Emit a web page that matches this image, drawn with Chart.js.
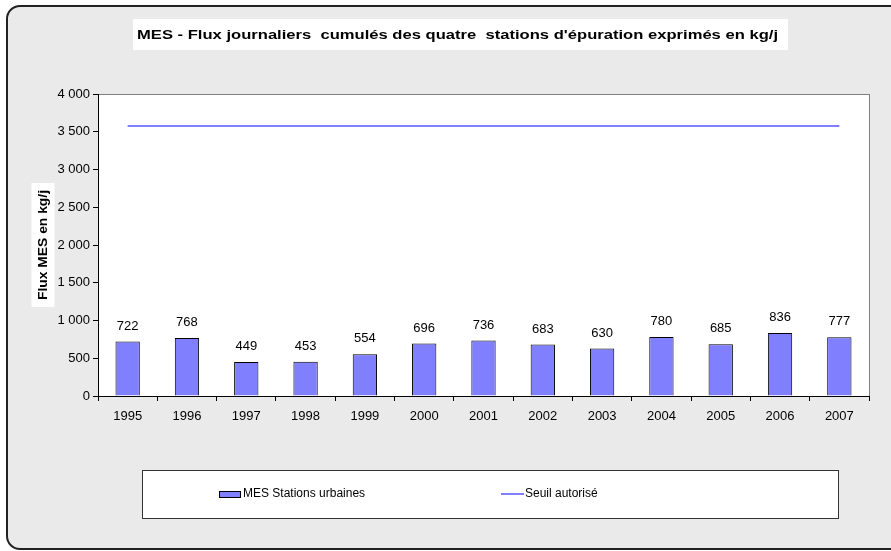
<!DOCTYPE html>
<html>
<head>
<meta charset="utf-8">
<script src="https://cdn.jsdelivr.net/npm/chart.js@4/dist/chart.umd.min.js"></script>
<style>
  html, body { margin: 0; padding: 0; background: #ffffff; }
  #wrap { width: 891px; height: 551px; }
</style>
</head>
<body>
<div id="wrap"><canvas id="mesChart" width="891" height="551"></canvas></div>
<script>
// Data
const years = ["1995", "1996", "1997", "1998", "1999", "2000", "2001", "2002", "2003", "2004", "2005", "2006", "2007"];
const fluxMES = [722, 768, 449, 453, 554, 696, 736, 683, 630, 780, 685, 836, 777];
const seuil = [3575, 3575, 3575, 3575, 3575, 3575, 3575, 3575, 3575, 3575, 3575, 3575, 3575];
const yTicks = [0, 500, 1000, 1500, 2000, 2500, 3000, 3500, 4000];

const titleText = "MES - Flux journaliers  cumulés des quatre  stations d'épuration exprimés en kg/j";
const yTitle = "Flux MES en kg/j";
const FONT = "'Liberation Sans', Arial, sans-serif";

function fmt(v) {
  return String(v).replace(/\B(?=(\d{3})+(?!\d))/g, " ");
}

// background frame, title, axis title, legend, value labels
const decor = {
  id: "decor",
  beforeDraw(chart) {
    const ctx = chart.ctx;
    const a = chart.chartArea;
    ctx.save();
    ctx.fillStyle = "#ffffff";
    ctx.fillRect(0, 0, chart.width, chart.height);
    // rounded outer frame (right side runs off the canvas)
    ctx.beginPath();
    const x0 = 7, y0 = 6, x1 = 900, y1 = 549, r = 13;
    ctx.moveTo(x0 + r, y0);
    ctx.lineTo(x1, y0);
    ctx.lineTo(x1, y1);
    ctx.lineTo(x0 + r, y1);
    ctx.arcTo(x0, y1, x0, y1 - r, r);
    ctx.lineTo(x0, y0 + r);
    ctx.arcTo(x0, y0, x0 + r, y0, r);
    ctx.closePath();
    ctx.fillStyle = "#eaeaea";
    ctx.fill();
    ctx.lineWidth = 2;
    ctx.strokeStyle = "#222222";
    ctx.stroke();
    // plot area
    ctx.fillStyle = "#ffffff";
    ctx.fillRect(a.left, a.top, a.right - a.left, a.bottom - a.top);
    ctx.strokeStyle = "#808080";
    ctx.lineWidth = 1;
    ctx.strokeRect(a.left + 0.5, a.top + 0.5, a.right - a.left, a.bottom - a.top);
    // title box (text is wide, slightly stretched like the original)
    ctx.fillStyle = "#ffffff";
    ctx.fillRect(133, 19, 655, 31);
    ctx.font = "bold 13.5px " + FONT;
    ctx.fillStyle = "#000000";
    ctx.textAlign = "center";
    ctx.textBaseline = "middle";
    const tw = ctx.measureText(titleText).width;
    ctx.save();
    ctx.translate(457.5, 35);
    ctx.scale(641 / tw, 1);
    ctx.fillText(titleText, 0, 0);
    ctx.restore();
    // legend box
    ctx.fillStyle = "#ffffff";
    ctx.fillRect(142, 470, 696, 48);
    ctx.strokeStyle = "#333333";
    ctx.lineWidth = 1;
    ctx.strokeRect(142.5, 470.5, 696, 48);
    const ds = chart.data.datasets;
    ctx.fillStyle = ds[0].backgroundColor;
    ctx.fillRect(219, 491, 21, 6);
    ctx.strokeStyle = "#000000";
    ctx.strokeRect(219.5, 491.5, 21, 6);
    ctx.font = "12px " + FONT;
    ctx.fillStyle = "#000000";
    ctx.textAlign = "left";
    ctx.fillText(ds[0].label, 243, 494);
    ctx.strokeStyle = ds[1].borderColor;
    ctx.lineWidth = 2;
    ctx.beginPath();
    ctx.moveTo(501, 494);
    ctx.lineTo(524, 494);
    ctx.stroke();
    ctx.fillStyle = "#000000";
    ctx.fillText(ds[1].label, 525, 494);
    // y axis title
    ctx.translate(43, 245);
    ctx.rotate(-Math.PI / 2);
    ctx.font = "bold 13px " + FONT;
    const w = ctx.measureText(yTitle).width;
    ctx.fillStyle = "#ffffff";
    ctx.fillRect(-62, -11.5, 124, 23);
    ctx.fillStyle = "#000000";
    ctx.textAlign = "center";
    ctx.scale(110 / w, 1);
    ctx.fillText(yTitle, 0, 0);
    ctx.restore();
  },
  afterDatasetsDraw(chart) {
    const ctx = chart.ctx;
    const meta = chart.getDatasetMeta(0);
    ctx.save();
    ctx.font = "13px " + FONT;
    ctx.fillStyle = "#000000";
    ctx.textAlign = "center";
    ctx.textBaseline = "bottom";
    meta.data.forEach((bar, i) => {
      ctx.fillText(fluxMES[i], bar.x, bar.y - 9);
    });
    ctx.restore();
  }
};

new Chart(document.getElementById("mesChart"), {
  type: "bar",
  data: {
    labels: years,
    datasets: [{
      type: "bar",
      label: "MES Stations urbaines",
      data: fluxMES,
      backgroundColor: "#8080ff",
      borderColor: "#000000",
      borderWidth: 1,
      categoryPercentage: 1,
      barPercentage: 0.41,
      order: 2
    }, {
      type: "line",
      label: "Seuil autorisé",
      data: seuil,
      borderColor: "#8080ff",
      borderWidth: 2,
      pointRadius: 0,
      fill: false,
      order: 1
    }]
  },
  options: {
    responsive: false,
    animation: false,
    layout: { padding: { left: 28, right: 22, top: 94, bottom: 125 } },
    plugins: { legend: { display: false }, title: { display: false }, tooltip: { enabled: false } },
    scales: {
      x: {
        offset: true,
        afterFit: s => { s.height = 30; },
        grid: { display: true, drawOnChartArea: false, offset: true, tickLength: 5, color: "#000000" },
        border: { color: "#000000" },
        ticks: { color: "#000000", font: { family: FONT, size: 13 }, padding: 8 }
      },
      y: {
        min: 0,
        max: 4000,
        afterFit: s => { s.width = 70; },
        afterBuildTicks: s => { s.ticks = yTicks.map(v => ({ value: v })); },
        grid: { display: true, drawOnChartArea: false, tickLength: 5, color: "#000000" },
        border: { color: "#000000" },
        ticks: { color: "#000000", font: { family: FONT, size: 13 }, padding: 3, callback: v => fmt(v) }
      }
    }
  },
  plugins: [decor]
});
</script>
</body>
</html>
